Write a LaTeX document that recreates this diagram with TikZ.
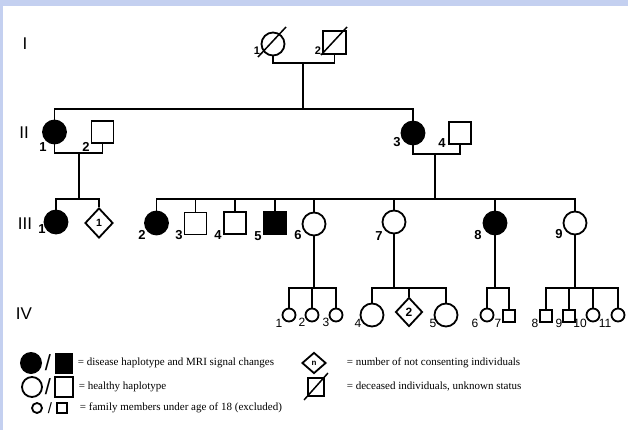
\documentclass[tikz,border=0pt]{standalone}
\usepackage{fontspec}
\setmainfont{Liberation Serif}
\setsansfont{Liberation Sans}
\usetikzlibrary{shapes.geometric}
\definecolor{slideblue}{RGB}{196,208,240}
\begin{document}
\begin{tikzpicture}[x=1pt,y=-1pt, line width=1.8pt,
  fem/.style={circle, draw, inner sep=0pt, minimum size=23pt},
  mal/.style={rectangle, draw, inner sep=0pt, minimum size=22pt},
  aff/.style={fill=black},
  sfem/.style={circle, draw, inner sep=0pt, minimum size=13pt},
  smal/.style={rectangle, draw, inner sep=0pt, minimum size=12.5pt},
  grp/.style={diamond, draw, inner sep=0pt, minimum width=28pt, minimum height=30pt, font=\sffamily\bfseries\fontsize{10.5}{10.5}\selectfont},
  lab/.style={font=\sffamily\bfseries\fontsize{13}{13}\selectfont, inner sep=0pt},
  slab/.style={font=\sffamily\fontsize{12}{12}\selectfont, inner sep=0pt},
  gen/.style={font=\sffamily\fontsize{17}{17}\selectfont, inner sep=0pt},
  leg/.style={font=\fontsize{11}{11}\selectfont, inner sep=0pt, anchor=west},
  sl/.style={font=\sffamily\fontsize{22}{22}\selectfont, inner sep=0pt},
  thinl/.style={line width=1.5pt}
]
% background
\fill[white] (0,0) rectangle (628,430);
\fill[slideblue] (0,0) rectangle (628,6);
\fill[slideblue] (0,0) rectangle (3,430);
\useasboundingbox (0,0) rectangle (628,430);

% generation labels
\node[gen] (gI) at (25,44) {I};
\node[gen] (gII) at (24,133) {II};
\node[gen] (gIII) at (25,224) {III};
\node[gen] (gIV) at (24,314) {IV};

% Generation I
\node[fem, minimum width=21pt, minimum height=23pt] (I1) at (273,44) {};
\node[mal, minimum width=23pt, minimum height=23pt] (I2) at (334.5,42.5) {};
\draw[thinl] ([shift={(-15,13)}]I1.center) -- ([shift={(13,-17)}]I1.center);
\draw[thinl] ([shift={(-13.5,12.5)}]I2.center) -- ([shift={(12.5,-15.5)}]I2.center);
\node[lab, font=\sffamily\bfseries\fontsize{11}{11}\selectfont] (lI1) at (257,51) {1};
\node[lab, font=\sffamily\bfseries\fontsize{11}{11}\selectfont] (lI2) at (318,51) {2};

% Generation II
\node[fem, aff] (II1) at (54.5,132) {};
\node[mal] (II2) at (102.5,132) {};
\node[fem, aff] (II3) at (413,133) {};
\node[mal] (II4) at (460,133) {};
\node[lab] (lII1) at (43,147) {1};
\node[lab] (lII2) at (86,147) {2};
\node[lab] (lII3) at (397,142) {3};
\node[lab] (lII4) at (442,143) {4};

% Generation III
\node[fem, aff] (III1) at (56,222) {};
\node[grp] (D1) at (99,223) {1};
\node[fem, aff] (III2) at (156.5,223) {};
\node[mal] (III3) at (195.5,223.5) {};
\node[mal] (III4) at (235,223) {};
\node[mal, aff] (III5) at (275,223) {};
\node[fem] (III6) at (314,224) {};
\node[fem] (III7) at (394,222) {};
\node[fem, aff] (III8) at (495,223) {};
\node[fem] (III9) at (575,223) {};
\node[lab] (lIII1) at (42,229) {1};
\node[lab] (lIII2) at (142,235) {2};
\node[lab] (lIII3) at (179,235) {3};
\node[lab] (lIII4) at (218,235) {4};
\node[lab] (lIII5) at (258,236) {5};
\node[lab] (lIII6) at (298,235) {6};
\node[lab] (lIII7) at (379,236) {7};
\node[lab] (lIII8) at (478,235) {8};
\node[lab] (lIII9) at (559,234) {9};

% Generation IV
\node[sfem] (IV1) at (289,315) {};
\node[sfem] (IV2) at (312,315) {};
\node[sfem] (IV3) at (336,315) {};
\node[fem] (IV4) at (372,315) {};
\node[grp, minimum width=27pt, minimum height=29pt, font=\sffamily\bfseries\fontsize{12}{12}\selectfont] (D2) at (409,312) {2};
\node[fem] (IV5) at (446,315) {};
\node[sfem] (IV6) at (487,315) {};
\node[smal] (IV7) at (509,316) {};
\node[smal] (IV8) at (546,316) {};
\node[smal] (IV9) at (569,316) {};
\node[sfem] (IV10) at (593,315) {};
\node[sfem] (IV11) at (618,315) {};
\node[slab] (lIV1) at (279,323) {1};
\node[slab] (lIV2) at (302,322) {2};
\node[slab] (lIV3) at (326,322) {3};
\node[slab] (lIV4) at (358,323) {4};
\node[slab] (lIV5) at (433,323) {5};
\node[slab] (lIV6) at (475,323) {6};
\node[slab] (lIV7) at (498,323) {7};
\node[slab] (lIV8) at (535,323) {8};
\node[slab] (lIV9) at (559,323) {9};
\node[slab] (lIV10) at (580,323) {10};
\node[slab] (lIV11) at (605,323) {11};

% connectors: generation I
\coordinate (mI) at (303,63);
\coordinate (sII) at (303,109);
\draw (I1.south) |- (mI) -| (I2.south);
\draw (mI) -- (sII);
\draw (II1.north) |- (sII) -| (II3.north);

% generation II left family
\coordinate (mIIa) at (79,153);
\coordinate (sIIIa) at (79,199);
\draw (II1.south) |- (mIIa) -| (II2.south);
\draw (mIIa) -- (sIIIa);
\draw (III1.north) |- (sIIIa) -| (D1.north);

% generation II right family
\coordinate (mIIb) at (435,154);
\coordinate (sIIIb) at (435,199);
\draw (II3.south) |- (mIIb) -| (II4.south);
\draw (mIIb) -- (sIIIb);
\draw (III2.north) |- (sIIIb) -| (III9.north);
\foreach \n in {III3,III4,III5,III6,III7,III8}
  \draw (\n.north) -- (\n.north |- sIIIb);

% generation IV
\coordinate (sIVa) at (314,288);
\draw (III6.south) -- (sIVa);
\draw (IV1.north) |- (sIVa) -| (IV3.north);
\draw (IV2.north) -- (IV2.north |- sIVa);

\coordinate (sIVb) at (394,288);
\draw (III7.south) -- (sIVb);
\draw (IV4.north) |- (sIVb) -| (IV5.north);
\draw (D2.north) -- (D2.north |- sIVb);

\coordinate (sIVc) at (495,288);
\draw (III8.south) -- (sIVc);
\draw (IV6.north) |- (sIVc) -| (IV7.north);

\coordinate (sIVd) at (575,288);
\draw (III9.south) -- (sIVd);
\draw (IV8.north) |- (sIVd) -| (IV11.north);
\draw (IV9.north) -- (IV9.north |- sIVd);
\draw (IV10.north) -- (IV10.north |- sIVd);

% legend
\node[circle, fill=black, inner sep=0pt, minimum size=22pt] (k1c) at (31,363) {};
\node[sl] (k1s) at (48,363) {/};
\node[rectangle, fill=black, inner sep=0pt, minimum width=18pt, minimum height=21pt] (k1q) at (64,363) {};
\node[leg] (k1t) at (77,363) {= disease haplotype and MRI signal changes};

\node[circle, draw, inner sep=0pt, minimum size=20pt] (k2c) at (32,387) {};
\node[sl] (k2s) at (48,387) {/};
\node[rectangle, draw, inner sep=0pt, minimum width=18pt, minimum height=20pt] (k2q) at (64,387) {};
\node[leg] (k2t) at (78,387) {= healthy haplotype};

\node[circle, draw, inner sep=0pt, minimum size=10pt] (k3c) at (37,408) {};
\node[sl, font=\sffamily\fontsize{15}{15}\selectfont] (k3s) at (50,408) {/};
\node[rectangle, draw, inner sep=0pt, minimum size=10pt] (k3q) at (62,408) {};
\node[leg] (k3t) at (79,408) {= family members under age of 18 (excluded)};

\node[diamond, draw, inner sep=0pt, minimum width=24pt, minimum height=21pt, font=\sffamily\bfseries\fontsize{8}{8}\selectfont] (k4d) at (314,363) {n};
\node[leg] (k4t) at (346,363) {= number of not consenting individuals};

\node[rectangle, draw, inner sep=0pt, minimum width=16pt, minimum height=18pt] (k5q) at (316,387) {};
\draw[thinl] ([shift={(-3,3)}]k5q.south west) -- ([shift={(3,-4)}]k5q.north east);
\node[leg] (k5t) at (346,387) {= deceased individuals, unknown status};
\end{tikzpicture}
\end{document}
